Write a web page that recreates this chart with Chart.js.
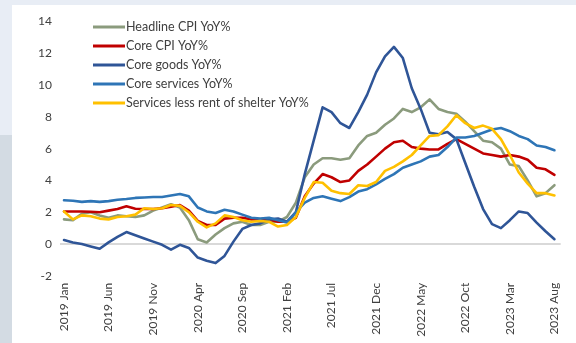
<!DOCTYPE html>
<html>
<head>
<meta charset="utf-8">
<script src="https://cdn.jsdelivr.net/npm/chart.js@4"></script>
<style>
  html, body { margin: 0; padding: 0; }
  body { width: 576px; height: 343px; position: relative; overflow: hidden; background: #e8edf5; }
  #strip { position: absolute; left: 0; top: 135px; width: 12px; height: 208px; background: #d3dbe3; }
  #panel { position: absolute; left: 12px; top: 5px; right: 0; bottom: 0; background: #ffffff; }
  #wrap { position: absolute; left: 0; top: 0; width: 576px; height: 343px; }
</style>
</head>
<body>
<div id="strip"></div>
<div id="panel"></div>
<div id="wrap"><canvas id="c" width="576" height="343"></canvas></div>
<script>
// Monthly observations, Jan 2019 - Aug 2023
const months = [
  '2019 Jan','2019 Feb','2019 Mar','2019 Apr','2019 May','2019 Jun','2019 Jul','2019 Aug','2019 Sep','2019 Oct','2019 Nov','2019 Dec',
  '2020 Jan','2020 Feb','2020 Mar','2020 Apr','2020 May','2020 Jun','2020 Jul','2020 Aug','2020 Sep','2020 Oct','2020 Nov','2020 Dec',
  '2021 Jan','2021 Feb','2021 Mar','2021 Apr','2021 May','2021 Jun','2021 Jul','2021 Aug','2021 Sep','2021 Oct','2021 Nov','2021 Dec',
  '2022 Jan','2022 Feb','2022 Mar','2022 Apr','2022 May','2022 Jun','2022 Jul','2022 Aug','2022 Sep','2022 Oct','2022 Nov','2022 Dec',
  '2023 Jan','2023 Feb','2023 Mar','2023 Apr','2023 May','2023 Jun','2023 Jul','2023 Aug'
];

const tickLabels = ['2019 Jan','2019 Jun','2019 Nov','2020 Apr','2020 Sep','2021 Feb',
                    '2021 Jul','2021 Dec','2022 May','2022 Oct','2023 Mar','2023 Aug'];

const headlineCpi = [
  1.55,1.5,1.9,2.0,1.8,1.65,1.8,1.75,1.7,1.8,2.1,2.3,
  2.5,2.3,1.5,0.3,0.1,0.6,1.0,1.3,1.4,1.2,1.2,1.4,
  1.4,1.7,2.6,4.2,5.0,5.4,5.4,5.3,5.4,6.2,6.8,7.0,
  7.5,7.9,8.5,8.3,8.6,9.1,8.5,8.3,8.2,7.7,7.1,6.5,
  6.4,6.0,5.0,4.9,4.0,3.0,3.2,3.7
];

const coreCpi = [
  2.05,2.05,2.05,2.03,2.0,2.1,2.2,2.37,2.22,2.2,2.2,2.25,
  2.35,2.45,2.1,1.45,1.2,1.2,1.6,1.65,1.65,1.55,1.55,1.55,
  1.4,1.4,1.65,3.0,3.8,4.4,4.2,3.9,4.0,4.6,5.0,5.5,
  6.0,6.4,6.5,6.1,6.0,5.95,5.95,6.3,6.6,6.3,6.0,5.7,
  5.6,5.5,5.6,5.5,5.3,4.8,4.7,4.35
];

const coreGoods = [
  0.25,0.1,0.0,-0.15,-0.3,0.1,0.45,0.75,0.55,0.35,0.15,-0.05,
  -0.35,-0.05,-0.25,-0.85,-1.05,-1.2,-0.75,0.15,0.95,1.2,1.3,1.55,
  1.6,1.4,2.0,4.4,6.5,8.6,8.3,7.6,7.3,8.3,9.4,10.8,
  11.8,12.4,11.7,9.8,8.5,7.0,6.9,7.05,6.6,5.1,3.6,2.2,
  1.25,1.0,1.5,2.05,1.95,1.35,0.8,0.3
];

const coreServices = [
  2.75,2.72,2.65,2.7,2.65,2.7,2.78,2.83,2.9,2.93,2.96,2.96,
  3.05,3.15,3.0,2.3,2.05,1.95,2.15,2.05,1.85,1.65,1.6,1.65,
  1.5,1.35,2.0,2.6,2.9,3.0,2.85,2.7,2.95,3.3,3.45,3.75,
  4.1,4.4,4.8,5.0,5.2,5.5,5.6,6.1,6.7,6.7,6.8,7.0,
  7.2,7.3,7.1,6.8,6.6,6.2,6.1,5.9
];

const servicesExShelter = [
  2.05,1.55,1.8,1.75,1.6,1.55,1.7,1.75,1.85,2.25,2.2,2.25,
  2.45,2.4,2.0,1.4,1.05,1.3,1.8,1.7,1.5,1.4,1.45,1.4,
  1.1,1.2,1.7,2.9,3.9,3.85,3.35,3.2,3.15,3.7,3.65,3.9,
  4.6,4.85,5.2,5.6,6.2,6.8,6.85,7.4,8.1,7.6,7.3,7.45,
  7.25,6.6,5.6,4.5,3.8,3.2,3.2,3.05
];

const yTicks = [-2, 0, 2, 4, 6, 8, 10, 12, 14];

const seriesNames = ['Headline CPI YoY%', 'Core CPI YoY%', 'Core goods YoY%',
                     'Core services YoY%', 'Services less rent of shelter YoY%'];
const seriesValues = [headlineCpi, coreCpi, coreGoods, coreServices, servicesExShelter];
const seriesColors = ['#8b9b7d', '#c00000', '#2f5597', '#2e75b6', '#ffc000'];
// later series are painted above earlier ones
const drawOrder = [4, 3, 2, 1, 0];

const toPoints = vals => vals.map((v, i) => ({ x: i, y: v }));

// Legend drawn in the upper-left corner of the plot
const insideLegend = {
  id: 'insideLegend',
  afterDraw(chart) {
    const { ctx, chartArea } = chart;
    ctx.save();
    ctx.font = '12.5px Lato';
    ctx.textBaseline = 'middle';
    ctx.textAlign = 'left';
    chart.data.datasets.forEach((ds, i) => {
      const y = chartArea.top + 5.5 + i * 19;
      const x0 = chartArea.left + 33;
      ctx.strokeStyle = ds.borderColor;
      ctx.lineWidth = 3;
      ctx.beginPath();
      ctx.moveTo(x0, y);
      ctx.lineTo(x0 + 32, y);
      ctx.stroke();
      ctx.fillStyle = '#404040';
      ctx.fillText(ds.label, x0 + 33, y);
    });
    ctx.restore();
  }
};

Chart.defaults.font.family = 'Lato';

new Chart(document.getElementById('c'), {
  type: 'line',
  data: {
    datasets: seriesNames.map((name, k) => ({
      label: name,
      data: toPoints(seriesValues[k]),
      borderColor: seriesColors[k],
      backgroundColor: seriesColors[k],
      borderWidth: 2.6,
      pointRadius: 0,
      tension: 0,
      borderJoinStyle: 'round',
      borderCapStyle: 'round',
      order: drawOrder[k]
    }))
  },
  options: {
    responsive: false,
    animation: false,
    devicePixelRatio: 1,
    layout: { padding: { left: 0, right: 13, top: 21.5, bottom: 0 } },
    plugins: { legend: { display: false }, tooltip: { enabled: false } },
    scales: {
      x: {
        type: 'linear',
        min: -0.45,
        max: 55.7,
        afterBuildTicks: s => { s.ticks = tickLabels.map(l => ({ value: months.indexOf(l) })); },
        afterFit: s => { s.height = 67.2; },
        ticks: {
          autoSkip: false,
          maxRotation: 90,
          minRotation: 90,
          padding: 7,
          color: '#404040',
          font: { size: 12 },
          callback: v => months[v]
        },
        grid: { display: false, drawTicks: false },
        border: { display: false }
      },
      y: {
        min: -2,
        max: 14,
        afterBuildTicks: s => { s.ticks = yTicks.map(v => ({ value: v })); },
        afterFit: s => { s.width = 60; },
        ticks: {
          padding: 8,
          color: '#404040',
          font: { size: 12 }
        },
        grid: {
          drawTicks: false,
          lineWidth: 2,
          color: c => (c.tick && c.tick.value === 0 ? '#d9d9d9' : 'rgba(0,0,0,0)')
        },
        border: { display: false }
      }
    }
  },
  plugins: [insideLegend]
});
</script>
</body>
</html>
